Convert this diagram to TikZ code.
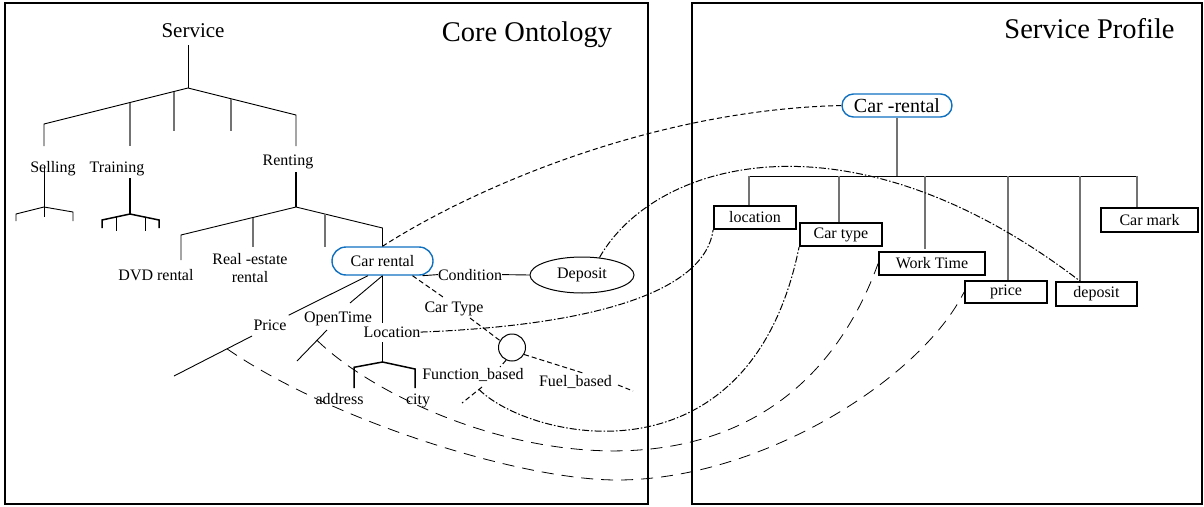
\documentclass[tikz,border=0pt]{standalone}
\usepackage{fontspec}
\setmainfont{Liberation Serif}
\usetikzlibrary{shapes.misc,shapes.geometric}
\definecolor{pillblue}{RGB}{16,112,192}
\definecolor{stubgray}{RGB}{115,115,115}
\newcommand\fsmall{\fontsize{16}{17.5}\selectfont}
\newcommand\fmid{\fontsize{21}{24}\selectfont}
\newcommand\fpill{\fontsize{20}{24}\selectfont}
\newcommand\fbig{\fontsize{28.5}{32}\selectfont}

\begin{document}
\begin{tikzpicture}[x=1pt,y=-1pt,
  panel/.style={draw,line width=1.6pt},
  treeline/.style={line width=0.9pt},
  stub/.style={line width=1.4pt,draw=stubgray},
  heavy/.style={line width=1.5pt},
  lab/.style={inner sep=0pt,font=\fsmall},
  pill/.style={rounded rectangle,draw=pillblue,line width=1.4pt,inner sep=0pt,font=\fsmall},
  slot/.style={draw,line width=1.8pt,minimum height=23pt,inner sep=0pt,font=\fsmall},
  drop/.style={line width=1.1pt,draw=stubgray},
  shortdash/.style={line width=1pt,dash pattern=on 5pt off 3pt},
  longdash/.style={line width=0.8pt,dash pattern=on 12pt off 8pt},
  dashdot/.style={line width=1pt,dash pattern=on 7pt off 2pt on 1.5pt off 2pt},
]
\useasboundingbox (0,0) rectangle (1204,506);

% the two panels and their titles
\draw[panel] (5,3) rectangle (648,504);
\draw[panel] (692,3) rectangle (1202,504);
\node[font=\fbig,inner sep=0pt,anchor=base] (coretitle) at (527,41.5) {Core Ontology};
\node[font=\fbig,inner sep=0pt,anchor=base] (proftitle) at (1089.5,38.5) {Service Profile};

% ---------- core ontology tree ----------
\node[font=\fmid,inner sep=0pt,anchor=base] (service) at (193,37.5) {Service};
\coordinate (sTop) at (188,45);
\coordinate (sApex) at (188,88);
\draw[treeline] (sTop) -- (sApex);
\draw[treeline] (44,146) -- (44,124) -- (sApex) -- (296,115) -- (296,146);
\draw[stub] (130,102.5) -- (130,146);
\draw[stub] (174,91.5) -- (174,131);
\draw[stub] (231,98.7) -- (231,131);

\node[lab,anchor=base] (selling) at (53,172) {Selling};
\node[lab,anchor=base] (training) at (117,172) {Training};
\node[lab,anchor=base] (renting) at (288,165.7) {Renting};

% Selling subtree
\coordinate (selApex) at (44,207);
\draw[treeline] (44,168) -- (selApex);
\draw[treeline] (16,221) -- (16,214) -- (selApex) -- (73,212) -- (73,221);
\draw[treeline] (selApex) -- (44,217);

% Training subtree
\coordinate (trApex) at (130,214);
\draw[heavy] (130,178) -- (trApex);
\draw[heavy] (102,228) -- (102,220) -- (trApex) -- (159,220) -- (159,228);
\draw[treeline] (116,217) -- (116,231);
\draw[treeline] (145,217) -- (145,231);

% Renting subtree
\node[pill,minimum width=101pt,minimum height=28pt] (cr) at (382.5,261) {Car rental};
\coordinate (rApex) at (296,207);
\draw[heavy] (296,172) -- (rApex);
\draw[treeline] (181,260) -- (181,235) -- (rApex) -- (382.5,228) -- (cr.north);
\draw[stub] (253,217.5) -- (253,247);
\draw[stub] (325,214) -- (325,247);
\node[lab,anchor=base] (dvd) at (156,280) {DVD rental};
\node[lab,align=center,anchor=center] (realestate) at (250,268) {Real -estate\\rental};

% Car rental attributes
\node[lab,anchor=center] (cond) at (470,274.6) {Condition};
\node[ellipse,draw,line width=1pt,minimum width=104pt,minimum height=36pt,inner sep=0pt,font=\fsmall] (dep) at (582,275) {Deposit};
\draw[treeline] ([xshift=40pt]cr.south) -- (cond.west);
\draw[treeline] (cond.east) -- (dep.west);

\node[lab,anchor=base] (price) at (270,330) {Price};
\draw[treeline] ([xshift=-14.5pt]cr.south) -- ([xshift=2pt,yshift=4pt]price.north east);
\coordinate (pLoA) at (252,336);
\coordinate (pLoB) at (174,376);
\coordinate (pTick) at (227,348.8);
\draw[treeline] (pLoA) -- (pLoB);

\node[lab,anchor=base] (open) at (338,322.7) {OpenTime};
\coordinate (oUp) at (350,303);
\draw[treeline] (cr.south) -- (oUp);
\coordinate (oLoA) at (327,330);
\coordinate (oLoB) at (297,361);
\coordinate (oTick) at (317,340.3);
\draw[treeline] (oLoA) -- (oLoB);

\node[lab,anchor=base] (loc) at (392,337.3) {Location};
\coordinate (lUp) at (382.5,323);
\draw[treeline] (cr.south) -- (lUp);
\coordinate (lApex) at (382.5,362);
\draw[heavy] (382.5,342) -- (lApex);
\draw[heavy] (354,388) -- (354,367.3) -- (lApex) -- (415,369) -- (415,388);
\node[lab,anchor=base] (address) at (339.5,404) {address};
\node[lab,anchor=base] (city) at (418,404) {city};

\node[lab,anchor=base] (ctype) at (454,312.7) {Car Type};
\node[circle,draw,line width=1pt,minimum size=27pt,inner sep=0pt] (circ) at (512,347.5) {};
\coordinate (ctUp) at (443,297);
\coordinate (ctLo) at (470,318);
\draw[shortdash] ([xshift=30pt]cr.south) -- (ctUp);
\draw[shortdash] (ctLo) -- (circ.150);

\node[lab,anchor=base] (func) at (473,379.3) {Function\_based};
\node[lab,anchor=base] (fuel) at (575.5,386.7) {Fuel\_based};
\coordinate (fuUp) at (583,373);
\coordinate (fuA) at (618,385);
\coordinate (fuB) at (633,391);
\draw[shortdash] (circ.-30) -- (fuUp);
\draw[shortdash] (fuA) -- (fuB);
\coordinate (fnUp) at (500,367);
\coordinate (fnA) at (482,387);
\coordinate (fnB) at (462,403);
\coordinate (fnTick) at (479,389.5);
\draw[shortdash] (circ.-115) -- (fnUp);
\draw[shortdash] (fnA) -- (fnB);

% ---------- service profile ----------
\node[pill,font=\fpill,minimum width=110pt,minimum height=23pt] (cr2) at (897,105.5) {Car -rental};
\coordinate (bus) at (897,176);
\draw[drop] (cr2.south) -- (bus);
\draw[treeline] (749,176) -- (1137,176);

\node[slot,minimum width=82pt] (bloc) at (755,217.5) {location};
\node[slot,minimum width=82pt] (bct) at (841,234.5) {Car type};
\node[slot,minimum width=106pt] (bwt) at (932,263.5) {Work Time};
\node[slot,minimum width=82pt,minimum height=22pt] (bpr) at (1006,292) {price};
\node[slot,minimum width=81pt,minimum height=24pt] (bdep) at (1096.5,294) {deposit};
\node[slot,minimum width=97pt,minimum height=24pt] (bmark) at (1149.5,220) {Car mark};

\coordinate (t1) at (749,176);
\coordinate (t2) at (839,176);
\coordinate (t3) at (925,176);
\coordinate (t4) at (1008,176);
\coordinate (t5) at (1080,176);
\coordinate (t6) at (1137,176);
\draw[drop] (t1) -- (t1 |- bloc.north);
\draw[drop] (t2) -- (t2 |- bct.north);
\draw[drop] (t3) -- (925,249);
\draw[drop] (t4) -- (t4 |- bpr.north);
\draw[drop] (t5) -- (t5 |- bdep.north);
\draw[drop] (t6) -- (t6 |- bmark.north);

% ---------- mappings between the two panels ----------
\draw[shortdash] (cr.north) .. controls (470,190) and (650,110) .. (cr2.west);
\draw[dashdot] (dep.45) .. controls (655,160) and (850,105) .. ([xshift=-16.5pt]bdep.north);
\draw[dashdot] (loc.east) .. controls (600,325) and (705,290) .. (bloc.south west);
\draw[dashdot] (fnTick) .. controls (530,440) and (750,490) .. (bct.south west);
\draw[longdash] (oTick) .. controls (420,440) and (770,560) .. (bwt.west);
\draw[longdash] (pTick) .. controls (330,420) and (520,480) .. (617,480)
  .. controls (760,480) and (920,380) .. (bpr.west);
\end{tikzpicture}
\end{document}
